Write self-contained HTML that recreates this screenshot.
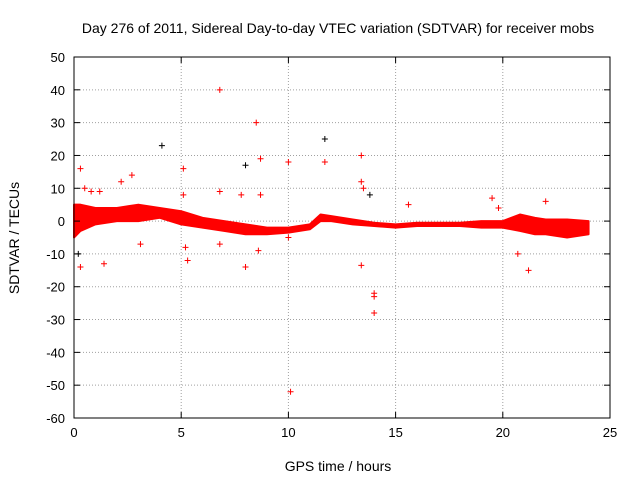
<!DOCTYPE html>
<html><head><meta charset="utf-8"><style>
body{margin:0;background:#fff;}
svg{display:block;font-family:"Liberation Sans",sans-serif;}
</style></head><body>
<svg id="chart" width="640" height="480">
<rect width="640" height="480" fill="#fff"/>
<text x="338" y="33" font-size="14" text-anchor="middle">Day 276 of 2011, Sidereal Day-to-day VTEC variation (SDTVAR) for receiver mobs</text>
<text x="338" y="471" font-size="14" text-anchor="middle">GPS time / hours</text>
<text transform="translate(19,238) rotate(-90)" font-size="14" text-anchor="middle">SDTVAR / TECUs</text>
<g id="grid"></g><g id="band"></g><g id="pts"></g><g id="axes"></g>
</svg>
<script>
const xTicks=[0,5,10,15,20,25];
const yTicks=[50,40,30,20,10,0,-10,-20,-30,-40,-50,-60];
const bandTime=[0,0.3,1,2,3,4,5,6,7,8,9,10,11,11.5,12,13,14,15,16,17,18,19,20,20.8,21.5,22,23,24];
const bandUpper=[5,5,4,4,5,4,3,1,0,-1,-2,-2,-1,2,1.5,0.5,-0.5,-1,-0.5,-0.5,-0.5,0,0,2,1,0.5,0.5,0];
const bandLower=[-5,-3,-1,0,0,1,-1,-2,-3,-4,-4,-3.5,-2.5,0,0,-1,-1.5,-2,-1.5,-1.5,-1.5,-2,-2,-3,-4,-4,-5,-4];
const outX=[0.3,0.2,0.3,0.5,0.8,1.2,1.4,2.2,2.7,3.1,4.1,5.1,5.1,5.2,5.3,6.8,6.8,6.8,7.8,8,8,8.5,8.6,8.7,8.7,10,10,10.1,11.7,11.7,13.4,13.4,13.4,13.5,14,14,14,13.8,15.6,19.5,19.8,20.7,21.2,22];
const outY=[16,-10,-14,10,9,9,-13,12,14,-7,23,16,8,-8,-12,40,9,-7,8,17,-14,30,-9,19,8,18,-5,-52,25,18,20,12,-13.5,10,-22,-23,-28,8,5,7,4,-10,-15,6];
const L=74,R=610,T=57,B=418;
const sx=v=>L+(v-0)/25*(R-L);
const sy=v=>T+(50-v)/110*(B-T);
const NS='http://www.w3.org/2000/svg';
function mk(tag,attrs,parent){const e=document.createElementNS(NS,tag);for(const k in attrs)e.setAttribute(k,attrs[k]);document.getElementById(parent).appendChild(e);return e;}
xTicks.forEach(t=>{
  if(t>0&&t<25){const g=mk('line',{x1:sx(t),x2:sx(t),y1:T,y2:B,stroke:'#a0a0a0','stroke-dasharray':'1,2'},'grid');
  
  }
  const tx=mk('text',{x:sx(t),y:B+19,'font-size':13,'text-anchor':'middle'},'axes');tx.textContent=t;
  
  
  mk('line',{x1:sx(t),x2:sx(t),y1:B,y2:B-6,stroke:'#000'},'axes');
  mk('line',{x1:sx(t),x2:sx(t),y1:T,y2:T+6,stroke:'#000'},'axes');
});
yTicks.forEach(t=>{
  if(t<50&&t>-60){const g=mk('line',{x1:L,x2:R,y1:sy(t),y2:sy(t),stroke:'#a0a0a0','stroke-dasharray':'1,2'},'grid');
  
  }
  const tx=mk('text',{x:L-9,y:sy(t)+5,'font-size':13,'text-anchor':'end'},'axes');tx.textContent=t;
  
  
  mk('line',{x1:L,x2:L+6,y1:sy(t),y2:sy(t),stroke:'#000'},'axes');
  mk('line',{x1:R,x2:R-6,y1:sy(t),y2:sy(t),stroke:'#000'},'axes');
});
const fr=mk('rect',{x:L,y:T,width:R-L,height:B-T,fill:'none',stroke:'#000'},'axes');


let d='';
bandTime.forEach((t,i)=>{d+=(i?'L':'M')+sx(t)+','+sy(bandUpper[i]);});
for(let i=bandTime.length-1;i>=0;i--){d+='L'+sx(bandTime[i])+','+sy(bandLower[i]);}
const band=mk('path',{d:d+'Z',fill:'#ff0000',stroke:'#ff0000','stroke-width':2,'stroke-linejoin':'round'},'band');


outX.forEach((x,i)=>{
  const cx=sx(x),cy=sy(outY[i]);
  const p=mk('path',{d:`M${cx-3},${cy}H${cx+3}M${cx},${cy-3}V${cy+3}`,stroke:(i%9==1?'#000':'#ff0000'),'stroke-width':1},'pts');
  
  
});
</script>
</body></html>
